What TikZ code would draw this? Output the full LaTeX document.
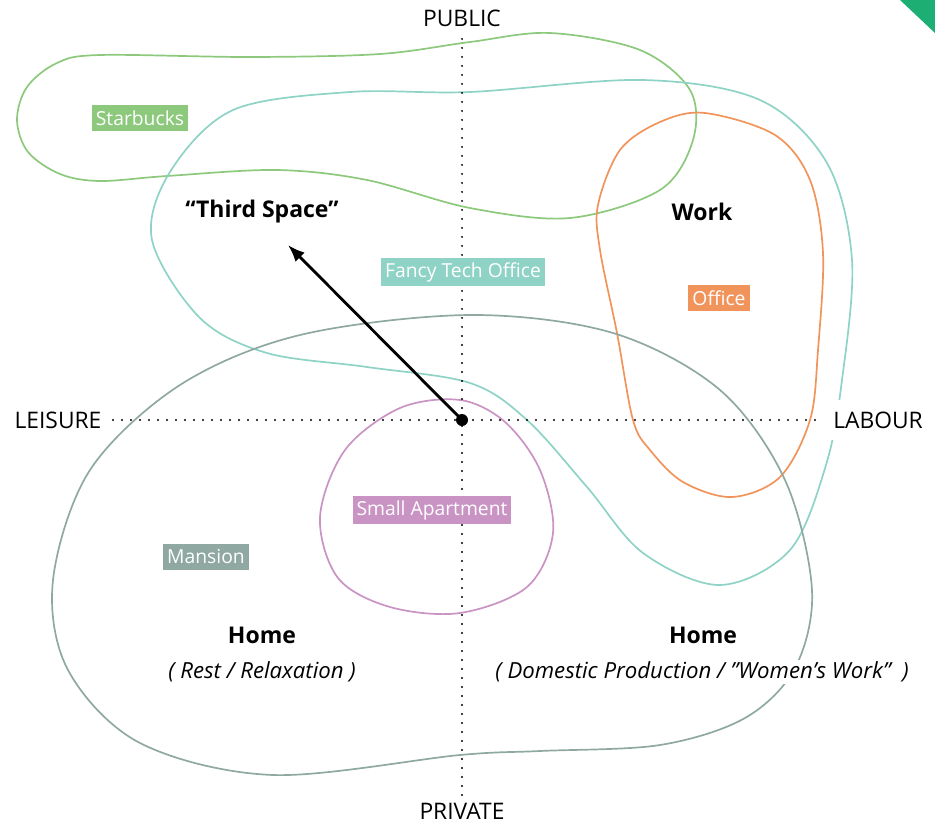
\documentclass[tikz,border=0pt]{standalone}
\usepackage{fontspec}
\setmainfont{Open Sans}
\usetikzlibrary{arrows.meta}
\definecolor{starbucks}{HTML}{8CC97C}
\definecolor{techteal}{HTML}{8ED3C5}
\definecolor{office}{HTML}{F1945B}
\definecolor{mansion}{HTML}{8FA9A2}
\definecolor{apartment}{HTML}{C993C4}
\definecolor{corner}{HTML}{1DAE74}

\begin{document}
\begin{tikzpicture}[x=1pt,y=-1pt]
\tikzstyle{every node}=[font=\fontsize{22.8}{27}\selectfont]
\tikzstyle{blob}=[line width=1.7pt]
\tikzstyle{tag}=[text=white, inner sep=4pt, minimum height=26pt, font=\fontsize{19.3}{22}\selectfont]
\tikzstyle{title}=[font=\bfseries\fontsize{23}{27}\selectfont]
\tikzstyle{sub}=[font=\itshape\fontsize{22.2}{26}\selectfont]
\tikzstyle{axis}=[line width=2.2pt, dash pattern=on 0pt off 9pt, line cap=round]
\useasboundingbox (0,0) rectangle (935,825);
\fill[corner] (900,0) -- (935,0) -- (935,33) -- cycle;

% regions
\draw[blob, starbucks] plot[smooth cycle, tension=.55] coordinates {(17,120) (27,87) (57,63) (100,55) (250,57) (380,54) (470,42) (550,33) (640,50) (690,90) (693,140) (660,190) (570,218) (470,208) (367,180) (277,170) (167,176) (100,181) (60,174) (28,152)};
\draw[blob, techteal] plot[smooth cycle, tension=.55] coordinates {(350,92) (470,92) (643,80) (760,100) (827,163) (852,260) (842,380) (826,465) (790,550) (720,585) (643,553) (587,487) (527,420) (470,383) (367,367) (267,353) (200,318) (152,240) (170,172) (233,110)};
\draw[blob, office] plot[smooth cycle, tension=.55] coordinates {(705,113) (775,135) (810,180) (823,253) (818,350) (810,420) (780,477) (732,497) (683,482) (650,450) (633,420) (617,333) (600,250) (598,205) (620,150) (660,122)};
\draw[blob, mansion] plot[smooth cycle, tension=.55] coordinates {(470,315) (613,333) (720,390) (785,480) (812,590) (795,668) (745,718) (660,745) (540,751) (460,755) (273,775) (140,743) (68,670) (53,580) (90,470) (180,385) (300,335)};
\draw[blob, apartment] plot[smooth cycle, tension=.55] coordinates {(460,400) (505,422) (540,470) (553,533) (527,587) (460,613) (390,607) (338,578) (320,517) (345,450) (400,408)};

% axes
\node (public) at (462,18) {PUBLIC};
\node (private) at (462,811) {PRIVATE};
\node (leisure) at (58,420) {LEISURE};
\node (labour) [fill=white, inner sep=12pt] at (878,420) {LABOUR};
\draw[axis] (public.south) ++(0,9) -- (private.north);
\draw[axis] (leisure.east) ++(8,0) -- (labour.west);

% tags
\node (starbuckstag) [tag, fill=starbucks] at (140,118) {Starbucks};
\node (fancytag) [tag, fill=techteal] at (463,272) {Fancy Tech Office};
\node (officetag) [tag, fill=office] at (719,298) {Office};
\node (mansiontag) [tag, fill=mansion] at (206,557) {Mansion};
\node (aparttag) [tag, fill=apartment] at (432,510) {Small Apartment};

% titles
\node (third) [title] at (262,212) {“Third Space”};
\node (work) [title] at (702,212) {Work};
\node (homel) [title] at (262,635) {Home};
\node (restl) [sub] at (262,672) {( Rest / Relaxation )};
\node (homer) [title] at (703,635) {Home};
\node (restr) [sub, fill=white, inner sep=2pt] at (702,672) {( Domestic Production / ”Women’s Work”~ )};

% move
\node (origin) [circle, fill, inner sep=0pt, minimum size=12pt] at (462,420) {};
\coordinate (tip) at (288,245);
\draw[line width=2.8pt, -{Latex[length=17pt,width=13pt]}] (origin.center) -- (tip);
\end{tikzpicture}
\end{document}
